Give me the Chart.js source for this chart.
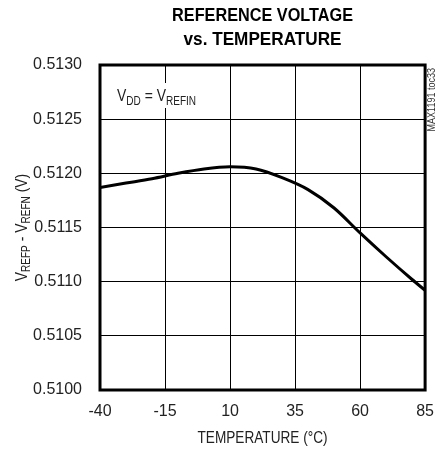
<!DOCTYPE html>
<html>
<head>
<meta charset="utf-8">
<script src="https://cdn.jsdelivr.net/npm/chart.js@4.4.0/dist/chart.umd.min.js"></script>
<style>
  html, body { margin: 0; padding: 0; background: #fff; }
  #wrap { width: 446px; height: 453px; }
</style>
</head>
<body>
<div id="wrap"><canvas id="c" width="446" height="453"></canvas></div>
<script>
// donnees
const temps = [-40, -30, -20, -10, 0, 10, 20, 30, 40, 50, 60, 70, 80, 85];
const vref = [0.51187, 0.51191, 0.51195, 0.51200, 0.51204, 0.51206, 0.51204,
              0.51196, 0.51185, 0.51168, 0.51145, 0.51123, 0.51102, 0.51092];
const xTicks = [-40, -15, 10, 35, 60, 85];
const yTicks = [0.5100, 0.5105, 0.5110, 0.5115, 0.5120, 0.5125, 0.5130];

const FONT = "'Liberation Sans', Arial, sans-serif";
const NARROW = 0.82; // pour imiter une police etroite

// texte avec indices (V_DD etc.), compresse horizontalement
function richWidth(ctx, parts, size) {
  let w = 0;
  parts.forEach(p => {
    ctx.font = (p.sub ? size * 0.72 : size) + 'px ' + FONT;
    w += ctx.measureText(p.t).width;
  });
  return w * NARROW;
}
function drawRich(ctx, parts, x, y, size) {
  ctx.save();
  ctx.translate(x, y);
  ctx.scale(NARROW, 1);
  let cx = 0;
  parts.forEach(p => {
    ctx.font = (p.sub ? size * 0.72 : size) + 'px ' + FONT;
    ctx.fillText(p.t, cx, p.sub ? size * 0.25 : 0);
    cx += ctx.measureText(p.t).width;
  });
  ctx.restore();
}
function drawFit(ctx, text, cx, cy, font, width) {
  ctx.save();
  ctx.font = font;
  const sx = width / ctx.measureText(text).width;
  ctx.translate(cx, cy);
  ctx.scale(sx, 1);
  ctx.textAlign = 'center';
  ctx.fillText(text, 0, 0);
  ctx.restore();
}

const decor = {
  id: 'decor',
  beforeDatasetsDraw(chart) {
    const ctx = chart.ctx;
    const a = chart.chartArea;
    ctx.save();
    const parts = [{t: 'V'}, {t: 'DD', sub: true}, {t: ' = V'}, {t: 'REFIN', sub: true}];
    const w = richWidth(ctx, parts, 17);
    ctx.fillStyle = '#fff';
    ctx.fillRect(a.left + 15, a.top + 18, w + 4, 25);
    ctx.fillStyle = '#222';
    ctx.textBaseline = 'alphabetic';
    drawRich(ctx, parts, a.left + 17, a.top + 36, 17);
    ctx.restore();
  },
  afterDatasetsDraw(chart) {
    const ctx = chart.ctx;
    const a = chart.chartArea;
    ctx.save();
    // cadre epais
    ctx.strokeStyle = '#000';
    ctx.lineWidth = 3;
    ctx.strokeRect(a.left, a.top, a.right - a.left, a.bottom - a.top);

    // titre
    ctx.fillStyle = '#000';
    ctx.textBaseline = 'middle';
    const cx = (a.left + a.right) / 2;
    drawFit(ctx, 'REFERENCE VOLTAGE', cx, 16, 'bold 19px ' + FONT, 181);
    drawFit(ctx, 'vs. TEMPERATURE', cx, 40, 'bold 19px ' + FONT, 158);

    // titre axe x
    ctx.fillStyle = '#222';
    drawFit(ctx, 'TEMPERATURE (\u00B0C)', cx, 438, '17px ' + FONT, 130);

    // titre axe y
    const yl = [{t: 'V'}, {t: 'REFP', sub: true}, {t: ' - V'}, {t: 'REFN', sub: true}, {t: ' (V)'}];
    const yw = richWidth(ctx, yl, 17);
    ctx.translate(22, (a.top + a.bottom) / 2);
    ctx.rotate(-Math.PI / 2);
    ctx.textAlign = 'left';
    ctx.textBaseline = 'middle';
    drawRich(ctx, yl, -yw / 2, 0, 17);
    ctx.restore();

    // reference du document
    ctx.save();
    ctx.fillStyle = '#333';
    ctx.translate(432, a.top + 3);
    ctx.rotate(-Math.PI / 2);
    ctx.scale(NARROW, 1);
    ctx.font = '11px ' + FONT;
    ctx.textAlign = 'right';
    ctx.textBaseline = 'middle';
    ctx.fillText('MAX1191 toc33', 0, 0);
    ctx.restore();
  }
};

const ctx = document.getElementById('c').getContext('2d');
const chart = new Chart(ctx, {
  type: 'line',
  data: {
    datasets: [{
      data: temps.map((t, i) => ({x: t, y: vref[i]})),
      borderColor: '#000',
      borderWidth: 3,
      pointRadius: 0,
      fill: false,
      cubicInterpolationMode: 'monotone'
    }]
  },
  options: {
    responsive: false,
    animation: false,
    layout: { padding: { top: 65, right: 19, left: 0, bottom: 0 } },
    plugins: { legend: { display: false }, tooltip: { enabled: false }, title: { display: false } },
    scales: {
      x: {
        type: 'linear',
        min: -40,
        max: 85,
        afterBuildTicks: s => { s.ticks = xTicks.map(v => ({value: v})); },
        afterFit: s => { s.height = 63; },
        grid: { color: '#000', lineWidth: 1, drawTicks: false },
        border: { display: false },
        ticks: { color: '#222', padding: 12, font: { family: FONT, size: 16 } }
      },
      y: {
        min: 0.5100,
        max: 0.5130,
        afterBuildTicks: s => { s.ticks = yTicks.map(v => ({value: v})); },
        afterFit: s => { s.width = 100; },
        grid: { color: '#000', lineWidth: 1, drawTicks: false },
        border: { display: false },
        ticks: {
          color: '#222',
          padding: 18,
          font: { family: FONT, size: 16 },
          callback: v => v.toFixed(4)
        }
      }
    }
  },
  plugins: [decor]
});
</script>
</body>
</html>
